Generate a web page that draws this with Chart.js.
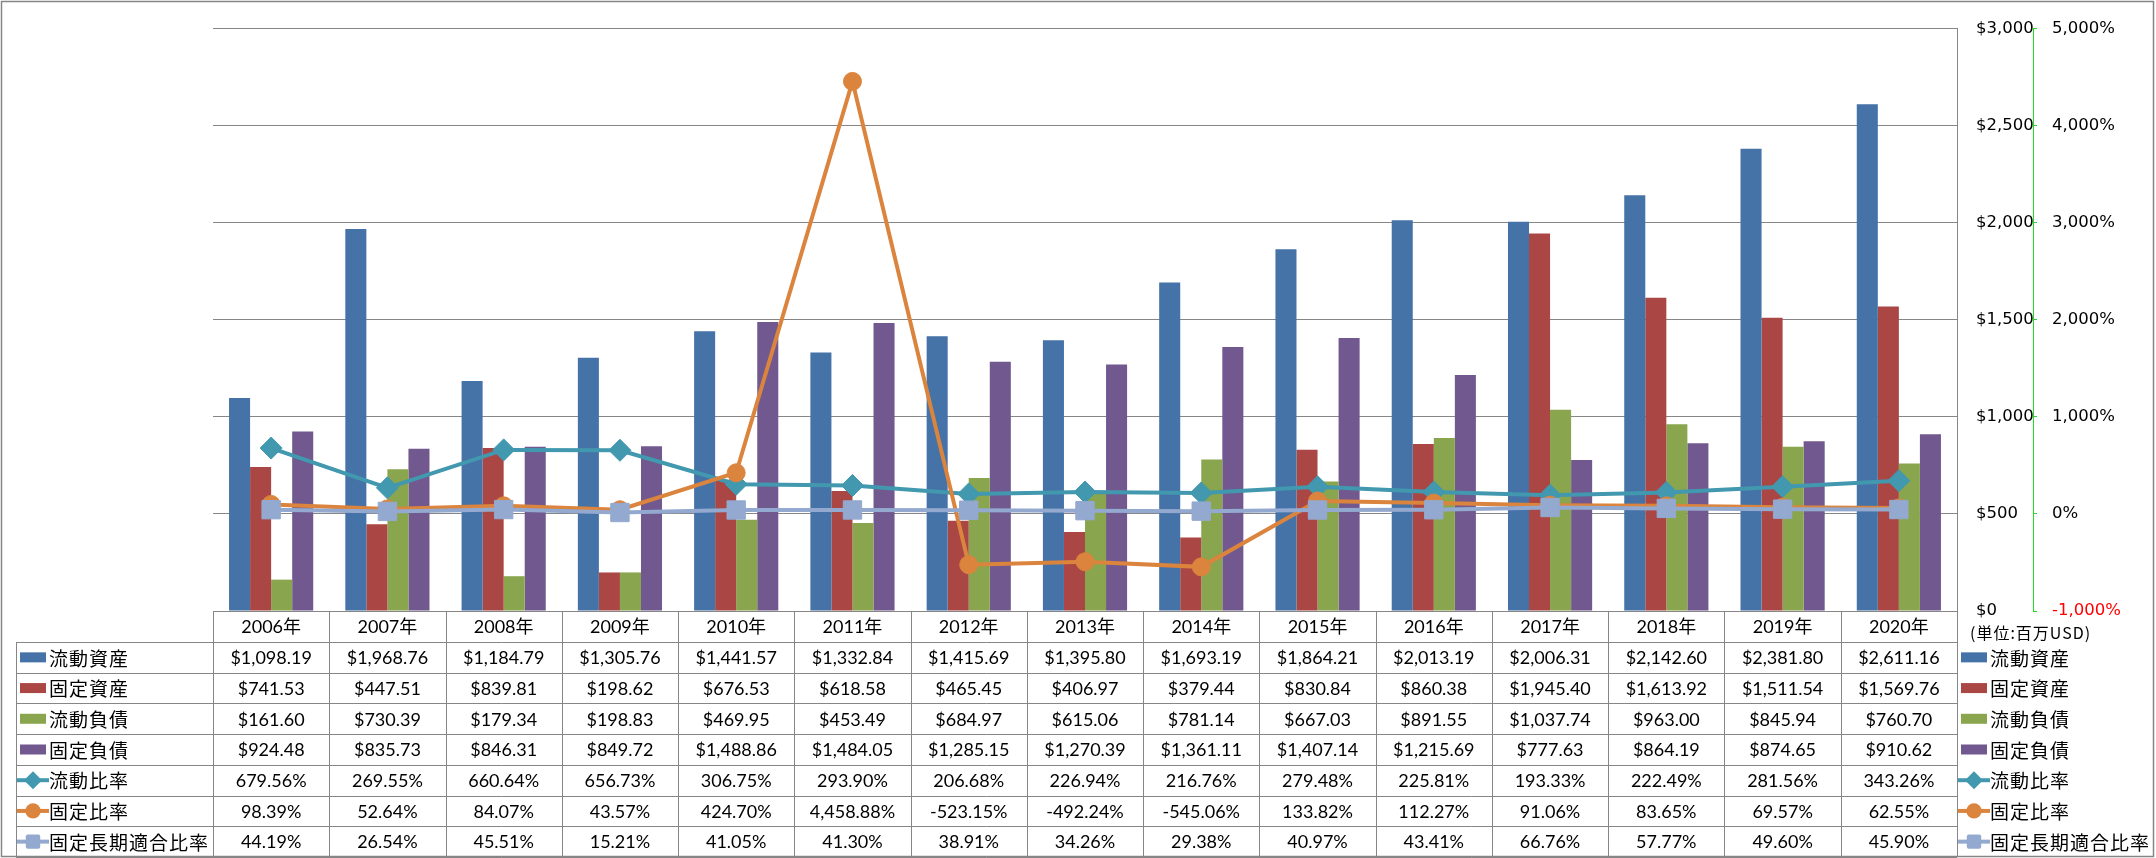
<!DOCTYPE html>
<html>
<head>
<meta charset="utf-8">
<script src="https://cdn.jsdelivr.net/npm/chart.js@4.4.0/dist/chart.umd.min.js"></script>
<style>
  html, body { margin: 0; padding: 0; background: #fff; }
  #wrap { width: 2156px; height: 858px; }
</style>
</head>
<body>
<div id="wrap"><canvas id="bs_chart" width="2156" height="858"></canvas></div>
<script>
const years = ["2006年", "2007年", "2008年", "2009年", "2010年", "2011年", "2012年", "2013年", "2014年", "2015年", "2016年", "2017年", "2018年", "2019年", "2020年"];
const seriesNames = ["流動資産", "固定資産", "流動負債", "固定負債", "流動比率", "固定比率", "固定長期適合比率"];

// 単位: 百万USD
const currentAssets = [1098.19, 1968.76, 1184.79, 1305.76, 1441.57, 1332.84, 1415.69, 1395.80, 1693.19, 1864.21, 2013.19, 2006.31, 2142.60, 2381.80, 2611.16];
const fixedAssets = [741.53, 447.51, 839.81, 198.62, 676.53, 618.58, 465.45, 406.97, 379.44, 830.84, 860.38, 1945.40, 1613.92, 1511.54, 1569.76];
const currentLiabilities = [161.60, 730.39, 179.34, 198.83, 469.95, 453.49, 684.97, 615.06, 781.14, 667.03, 891.55, 1037.74, 963.00, 845.94, 760.70];
const fixedLiabilities = [924.48, 835.73, 846.31, 849.72, 1488.86, 1484.05, 1285.15, 1270.39, 1361.11, 1407.14, 1215.69, 777.63, 864.19, 874.65, 910.62];

// %
const currentRatio = [679.56, 269.55, 660.64, 656.73, 306.75, 293.90, 206.68, 226.94, 216.76, 279.48, 225.81, 193.33, 222.49, 281.56, 343.26];
const fixedRatio = [98.39, 52.64, 84.07, 43.57, 424.70, 4458.88, -523.15, -492.24, -545.06, 133.82, 112.27, 91.06, 83.65, 69.57, 62.55];
const fixedLongTermRatio = [44.19, 26.54, 45.51, 15.21, 41.05, 41.30, 38.91, 34.26, 29.38, 40.97, 43.41, 66.76, 57.77, 49.60, 45.90];

const usdTicks = [0, 500, 1000, 1500, 2000, 2500, 3000];
const pctTicks = [-1000, 0, 1000, 2000, 3000, 4000, 5000];
const unitNote = "(単位:百万USD)";

const barColors = ["#4572A7", "#AA4643", "#89A54E", "#71588F"];
const lineColors = ["#4198AF", "#DB843D", "#93A9CF"];
const markers = ["rectRot", "circle", "rect"];
const gridColor = "#868686";
const numFont = '18px Lato, "Noto Sans CJK JP", sans-serif';
const jpFont = '19px "Noto Sans CJK JP", sans-serif';

const money = v => "$" + v.toLocaleString("en-US", { minimumFractionDigits: 2, maximumFractionDigits: 2 });
const pct = v => v.toLocaleString("en-US", { minimumFractionDigits: 2, maximumFractionDigits: 2 }) + "%";

const barValues = [currentAssets, fixedAssets, currentLiabilities, fixedLiabilities];
const lineValues = [currentRatio, fixedRatio, fixedLongTermRatio];

const tableRows = [
    ...barValues.map((vals, i) => ({ label: seriesNames[i], values: vals, fmt: money, kind: "bar", color: barColors[i] })),
    ...lineValues.map((vals, i) => ({ label: seriesNames[4 + i], values: vals, fmt: pct, kind: "line", color: lineColors[i], marker: markers[i] }))
];

function drawMarker(ctx, kind, color, cx, cy, r) {
    ctx.fillStyle = color;
    ctx.beginPath();
    if (kind === "rectRot") {
        ctx.moveTo(cx, cy - r); ctx.lineTo(cx + r, cy); ctx.lineTo(cx, cy + r); ctx.lineTo(cx - r, cy);
        ctx.closePath();
    } else if (kind === "circle") {
        ctx.arc(cx, cy, r * 0.85, 0, Math.PI * 2);
    } else {
        const s = r * 0.8;
        ctx.roundRect(cx - s, cy - s, 2 * s, 2 * s, 2);
    }
    ctx.fill();
}

function drawKey(ctx, row, x, y) {
    if (row.kind === "bar") {
        ctx.fillStyle = row.color;
        ctx.fillRect(x, y - 5, 26, 10);
    } else {
        ctx.strokeStyle = row.color;
        ctx.lineWidth = 4;
        ctx.beginPath();
        ctx.moveTo(x - 3, y); ctx.lineTo(x + 29, y);
        ctx.stroke();
        drawMarker(ctx, row.marker, row.color, x + 13, y, 9);
    }
}

const tablePlugin = {
    id: "dataTable",
    beforeDraw(chart) {
        const ctx = chart.ctx;
        ctx.save();
        ctx.fillStyle = "#fff";
        ctx.fillRect(0, 0, chart.width, chart.height);
        ctx.restore();
    },
    afterDraw(chart) {
        const ctx = chart.ctx;
        const area = chart.chartArea;
        const n = years.length;
        const colW = (area.right - area.left) / n;
        const top = area.bottom;
        const headH = 31;
        const bottom = chart.height - 1;
        const rowH = (bottom - top - headH) / tableRows.length;
        const tableLeft = 16;

        ctx.save();
        ctx.strokeStyle = gridColor;
        ctx.lineWidth = 1;
        ctx.beginPath();
        // horizontal lines
        ctx.moveTo(area.left, top + 0.5); ctx.lineTo(area.right, top + 0.5);
        for (let r = 0; r <= tableRows.length; r++) {
            const y = Math.round(top + headH + r * rowH) + 0.5;
            ctx.moveTo(tableLeft, y); ctx.lineTo(area.right, y);
        }
        // vertical lines
        ctx.moveTo(tableLeft + 0.5, top + headH); ctx.lineTo(tableLeft + 0.5, bottom);
        for (let i = 0; i <= n; i++) {
            const x = Math.round(area.left + i * colW) + 0.5;
            ctx.moveTo(x, top); ctx.lineTo(x, bottom);
        }
        ctx.stroke();

        // year header
        ctx.fillStyle = "#000";
        ctx.textAlign = "center";
        ctx.textBaseline = "middle";
        ctx.font = numFont;
        years.forEach((yr, i) => {
            ctx.fillText(yr, area.left + (i + 0.5) * colW, top + headH / 2 + 1);
        });

        tableRows.forEach((row, r) => {
            const cy = top + headH + (r + 0.5) * rowH;
            // values
            ctx.font = numFont;
            ctx.fillStyle = "#000";
            ctx.textAlign = "center";
            row.values.forEach((v, i) => {
                ctx.fillText(row.fmt(v), area.left + (i + 0.5) * colW, cy + 1);
            });
            // row header with key
            drawKey(ctx, row, 20, cy);
            ctx.font = jpFont;
            ctx.letterSpacing = "1px";
            ctx.fillStyle = "#000";
            ctx.textAlign = "left";
            ctx.fillText(row.label, 49, cy + 1);
            // right legend
            drawKey(ctx, row, 1961, cy);
            ctx.fillStyle = "#000";
            ctx.fillText(row.label, 1990, cy + 1);
            ctx.letterSpacing = "0px";
        });

        // unit note
        ctx.font = '16px "Noto Sans CJK JP", sans-serif';
        ctx.letterSpacing = "1px";
        ctx.fillStyle = "#000";
        ctx.textAlign = "left";
        ctx.fillText(unitNote, 1970, top + 22);
        ctx.letterSpacing = "0px";

        // outer frame
        ctx.strokeStyle = gridColor;
        ctx.lineWidth = 1.5;
        ctx.strokeRect(1.5, 1.5, chart.width - 4, chart.height - 3);
        ctx.restore();
    }
};

const datasets = [
    ...barValues.map((vals, i) => ({
        type: "bar",
        label: seriesNames[i],
        data: vals,
        backgroundColor: barColors[i],
        yAxisID: "y",
        order: 10,
        categoryPercentage: 0.724,
        barPercentage: 1.0
    })),
    ...lineValues.map((vals, i) => ({
        type: "line",
        label: seriesNames[4 + i],
        data: vals,
        borderColor: lineColors[i],
        backgroundColor: lineColors[i],
        pointBackgroundColor: lineColors[i],
        pointBorderColor: lineColors[i],
        borderWidth: 4,
        pointStyle: markers[i],
        pointRadius: [11, 9, 13][i],
        pointBorderWidth: 1,
        yAxisID: "y1",
        order: 3 - i,
        tension: 0,
        fill: false
    }))
];

new Chart(document.getElementById("bs_chart"), {
    data: { labels: years, datasets: datasets },
    plugins: [tablePlugin],
    options: {
        responsive: false,
        animation: false,
        devicePixelRatio: 1,
        layout: { padding: { left: 213, top: 13, bottom: 247, right: 0 } },
        plugins: { legend: { display: false }, tooltip: { enabled: false } },
        scales: {
            x: { display: false },
            y: {
                position: "right",
                weight: 0,
                min: usdTicks[0],
                max: usdTicks[usdTicks.length - 1],
                afterBuildTicks: s => { s.ticks = usdTicks.map(v => ({ value: v })); },
                afterFit: s => { s.width = 76; },
                grid: { color: gridColor, drawTicks: false },
                border: { display: true, color: gridColor, width: 1 },
                ticks: {
                    padding: 19,
                    color: "#000",
                    font: { family: "DejaVu Sans", size: 16.5 },
                    callback: v => "$" + v.toLocaleString("en-US")
                }
            },
            y1: {
                position: "right",
                weight: 1,
                min: pctTicks[0],
                max: pctTicks[pctTicks.length - 1],
                afterBuildTicks: s => { s.ticks = pctTicks.map(v => ({ value: v })); },
                afterFit: s => { s.width = 123; },
                grid: { drawOnChartArea: false, drawTicks: true, tickLength: 4, color: "#22dd22" },
                border: { display: true, color: "#22dd22", width: 1, dash: [4, 3] },
                ticks: {
                    padding: 15,
                    font: { family: "DejaVu Sans", size: 16.5 },
                    color: c => (c.tick && c.tick.value < 0 ? "#ff0000" : "#000"),
                    callback: v => v.toLocaleString("en-US") + "%"
                }
            }
        }
    }
});
</script>
</body>
</html>
